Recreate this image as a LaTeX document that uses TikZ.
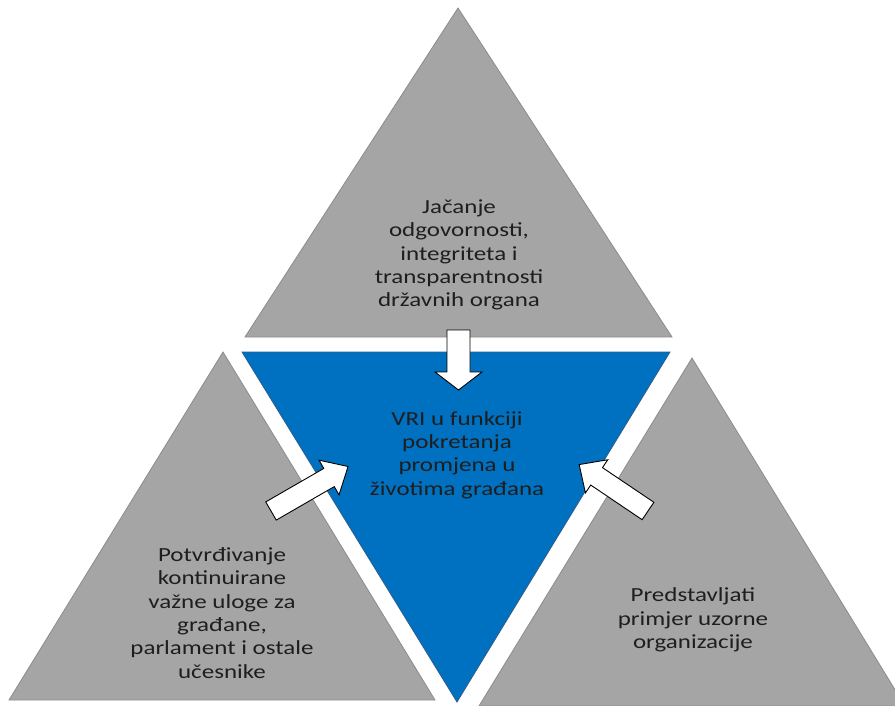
\documentclass[tikz,border=0pt]{standalone}
\usepackage{fontspec}
\newfontfamily\diagfont[FakeStretch=1.25]{Carlito}
\definecolor{tri}{HTML}{A5A5A5}
\definecolor{triline}{HTML}{8C8C8C}
\definecolor{blue1}{HTML}{0070C0}
\definecolor{blueline}{HTML}{2F5D8C}
\definecolor{txt}{HTML}{1E1E1E}
\begin{document}
\begin{tikzpicture}[x=1pt,y=-1pt,
  graytri/.style={fill=tri,draw=triline,line width=0.8pt,line join=miter},
  bluetri/.style={fill=blue1,draw=blueline,line width=0.8pt},
  blockarrow/.style={fill=white,draw=black,line width=0.9pt,line join=miter},
  label/.style={align=center,text=txt,inner sep=0pt,font=\diagfont\fontsize{20}{23.3}\selectfont}]
\useasboundingbox (0,0) rectangle (895,706);
\begin{scope}
\clip (0,0) rectangle (895,706);
% triangles
\draw[graytri] (458,8) -- (672,337) -- (245,337) -- cycle;
\draw[graytri] (223,352) -- (435,700) -- (9,700) -- cycle;
\draw[graytri] (692,358) -- (905,706) -- (479,706) -- cycle;
\draw[bluetri] (242,352) -- (670,352) -- (457,702) -- cycle;
\end{scope}
% texts
\node[label] (top) at (459,255) {Jačanje\\odgovornosti,\\integriteta i\\transparentnosti\\državnih organa};
\node[label] (center) at (457,455) {VRI u funkciji\\pokretanja\\promjena u\\životima građana};
\node[label] (left) at (222,613) {Potvrđivanje\\kontinuirane\\važne uloge za\\građane,\\parlament i ostale\\učesnike};
\node[label] (right) at (693,620) {Predstavljati\\primjer uzorne\\organizacije};
% block arrows
\draw[blockarrow] (447,330) -- (470,330) -- (470,372) -- (482,372) -- (458.5,390)
  -- (435,372) -- (447,372) -- cycle;
\begin{scope}[shift={(271,511)},rotate=30]
\draw[blockarrow] (0,-10.5) -- (67,-10.5) -- (67,-20) -- (89,0) -- (67,20) -- (67,10.5) -- (0,10.5) -- cycle;
\end{scope}
\begin{scope}[shift={(648,511)},rotate=146]
\draw[blockarrow] (0,-10.5) -- (62,-10.5) -- (62,-20) -- (83,0) -- (62,20) -- (62,10.5) -- (0,10.5) -- cycle;
\end{scope}
\end{tikzpicture}
\end{document}
